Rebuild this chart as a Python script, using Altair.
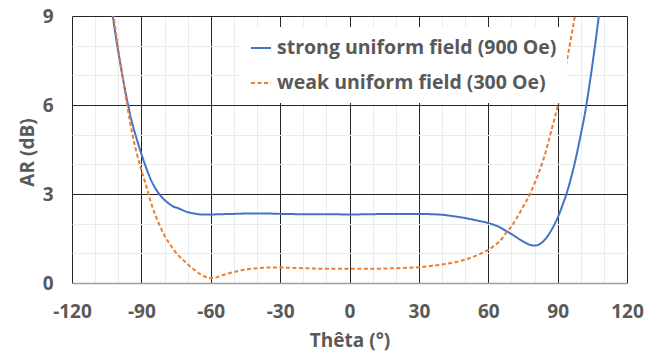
import altair as alt
import pandas as pd

series_names = ["strong uniform field (900 Oe)", "weak uniform field (300 Oe)"]

theta_strong = [-104, -102, -100, -98, -96, -94, -92, -90, -88, -86, -84, -82, -80, -78,
                -76, -74, -72, -70, -67, -64, -60, -55, -50, -45, -40, -35, -30, -20,
                -10, 0, 10, 20, 30, 35, 40, 45, 50, 55, 60, 65, 68, 70, 73, 76, 78, 80,
                82, 84, 86, 88, 90, 92, 94, 96, 98, 100, 102, 104, 106, 108, 110]
ar_strong = [10.0, 8.8, 7.8, 6.9, 6.1, 5.4, 4.85, 4.35, 3.9, 3.5, 3.2, 2.97, 2.8, 2.67,
             2.57, 2.52, 2.45, 2.39, 2.34, 2.31, 2.31, 2.32, 2.33, 2.34, 2.34, 2.34, 2.33, 2.32,
             2.32, 2.31, 2.32, 2.33, 2.33, 2.32, 2.30, 2.25, 2.19, 2.11, 2.02, 1.88, 1.74, 1.65,
             1.50, 1.36, 1.29, 1.26, 1.30, 1.42, 1.62, 1.88, 2.2, 2.6, 3.05, 3.6, 4.25, 5.0,
             5.8, 6.8, 7.9, 9.1, 10.3]

theta_weak = [-104, -102, -100, -98, -96, -94, -92, -90, -88, -86, -84, -82, -80, -78,
              -76, -74, -72, -70, -68, -66, -64, -62, -60, -58, -55, -50, -45, -40, -35,
              -30, -20, -10, 0, 10, 20, 30, 35, 40, 45, 50, 55, 60, 63, 66, 68, 70, 72,
              74, 76, 78, 80, 82, 84, 86, 88, 90, 92, 94, 96, 98, 100]
ar_weak = [10.2, 9.0, 7.9, 6.9, 5.92, 5.05, 4.38, 3.8, 3.3, 2.75, 2.3, 1.93, 1.6, 1.35,
           1.12, 0.93, 0.78, 0.64, 0.5, 0.38, 0.27, 0.2, 0.16, 0.18, 0.26, 0.37, 0.45, 0.5, 0.52,
           0.52, 0.5, 0.48, 0.48, 0.48, 0.5, 0.53, 0.57, 0.62, 0.69, 0.79, 0.93, 1.12, 1.28, 1.5,
           1.72, 1.9, 2.15, 2.42, 2.7, 3.0, 3.35, 3.75, 4.2, 4.75, 5.35, 5.95, 6.7, 7.5, 8.35,
           9.25, 10.3]

x_grid_values = list(range(-120, 121, 10))
y_grid_values = list(range(0, 10, 1))

df = pd.concat([
    pd.DataFrame({"theta": theta_strong, "ar": ar_strong, "series": series_names[0], "order": range(len(theta_strong))}),
    pd.DataFrame({"theta": theta_weak, "ar": ar_weak, "series": series_names[1], "order": range(len(theta_weak))}),
])

text_color = "#595959"
major = "#262626"
minor = "#ebebeb"

chart = alt.Chart(df).mark_line(clip=True, strokeWidth=2, interpolate="monotone").encode(
    x=alt.X("theta:Q",
            scale=alt.Scale(domain=[-120, 120], nice=False, zero=False),
            title="Thêta (°)",
            axis=alt.Axis(values=x_grid_values,
                          labelExpr="datum.value % 30 === 0 ? '' + datum.value : ''",
                          gridColor={"condition": {"test": "datum.value % 30 === 0", "value": major}, "value": minor},
                          ticks=False, labelFlush=False, labelOverlap=False,
                          labelPadding=19, domainColor="#a0a0a0", domainWidth=1.5,
                          titleY=57, titleBaseline="middle")),
    y=alt.Y("ar:Q",
            scale=alt.Scale(domain=[0, 9], nice=False),
            title="AR (dB)",
            axis=alt.Axis(values=y_grid_values,
                          labelExpr="datum.value % 3 === 0 ? '' + datum.value : ''",
                          gridColor={"condition": {"test": "datum.value % 3 === 0", "value": major}, "value": minor},
                          ticks=False, domain=False, labelOverlap=False,
                          labelPadding=19, titleX=-45, titleY=136,
                          titleBaseline="middle", titleAlign="center", titleAngle=270)),
    color=alt.Color("series:N",
                    scale=alt.Scale(domain=series_names, range=["#4472C4", "#ED7D31"]),
                    legend=alt.Legend(title=None)),
    strokeDash=alt.StrokeDash("series:N",
                              scale=alt.Scale(domain=series_names, range=[[1, 0], [4, 2.5]]),
                              legend=alt.Legend(title=None)),
    order="order:Q",
).properties(
    width=555, height=267, autosize="none",
    padding={"left": 64, "top": 8, "right": 35, "bottom": 68},
).configure(
    font="Open Sans",
).configure_view(
    stroke=None,
).configure_axis(
    labelFont="Open Sans", labelFontWeight="bold", labelFontSize=19, labelColor=text_color,
    titleFont="Open Sans", titleFontWeight="bold", titleFontSize=19, titleColor=text_color,
    gridWidth=1,
).configure_legend(
    orient="none", legendX=168, legendY=11,
    fillColor="white", padding=10,
    labelFont="Open Sans", labelFontWeight="bold", labelFontSize=19.5, labelColor=text_color,
    symbolType="stroke", symbolSize=400, symbolStrokeWidth=2, labelOffset=5,
    rowPadding=14, labelLimit=400,
)

chart.save("out.html", embed_options={"renderer": "svg", "actions": False})
